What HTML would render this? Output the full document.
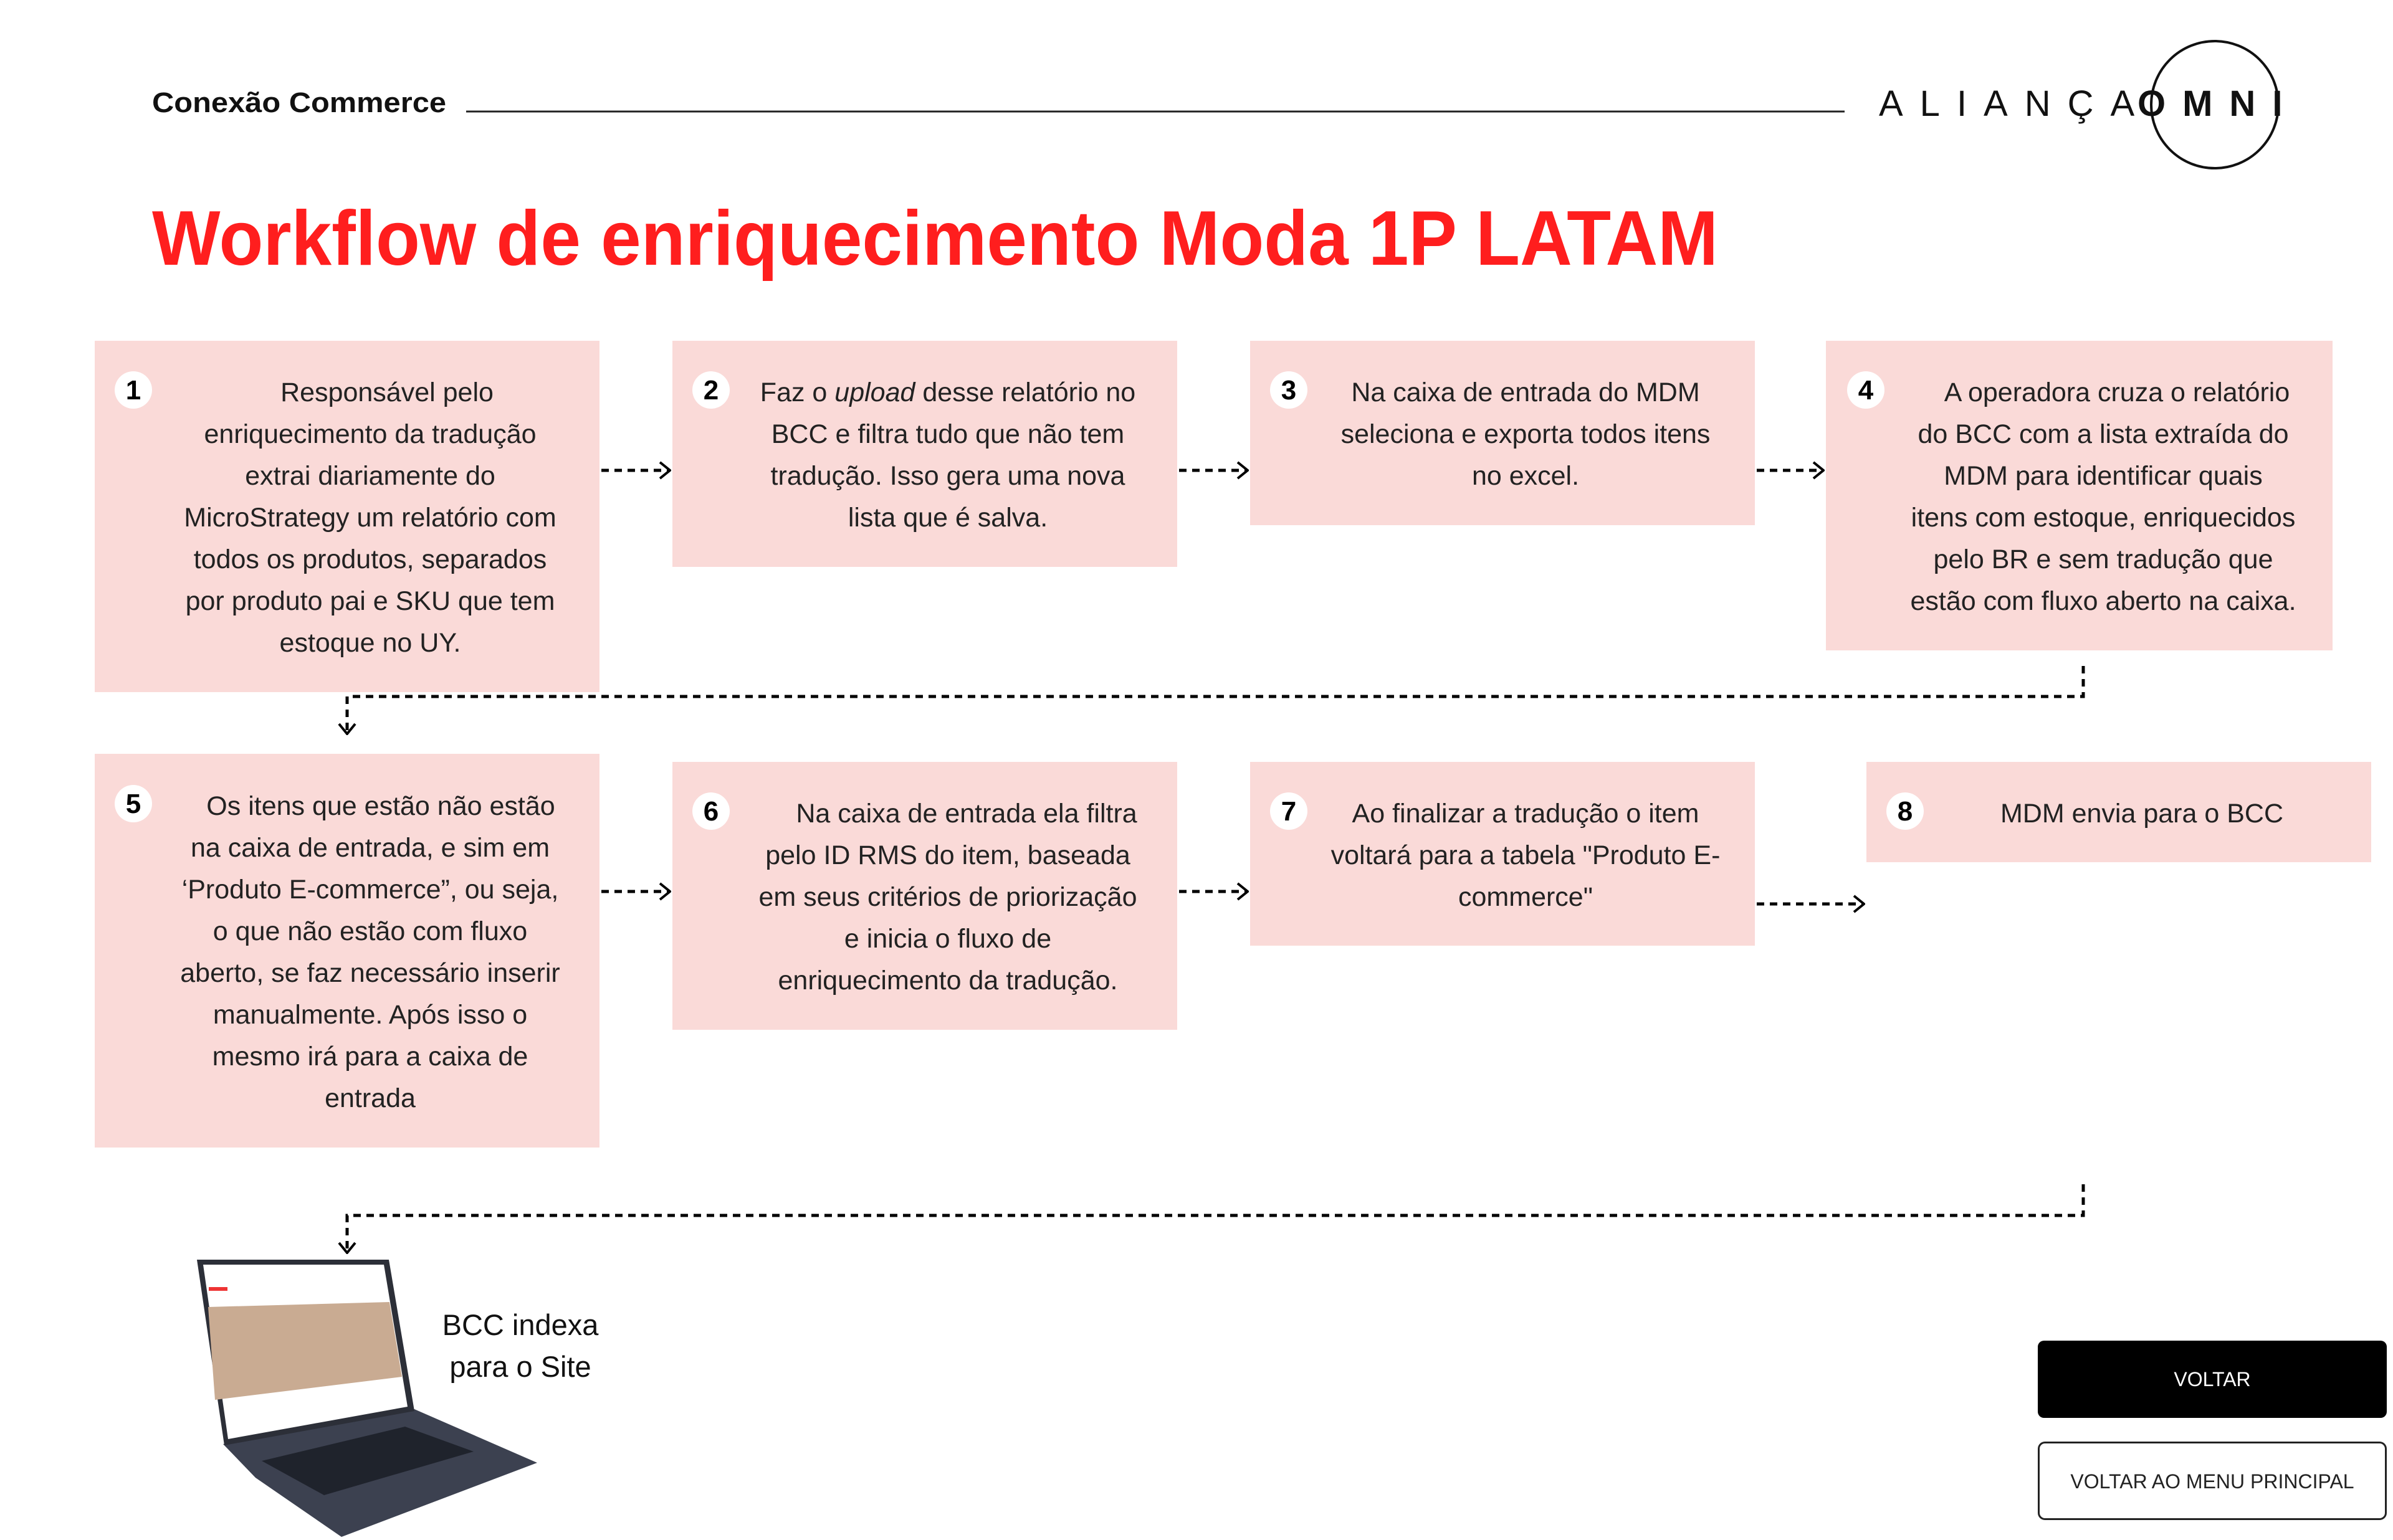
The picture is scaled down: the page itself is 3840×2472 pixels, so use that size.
<!DOCTYPE html>
<html><head><meta charset="utf-8"><style>
html,body{margin:0;padding:0;background:#fff;}
svg{display:block;}
text{font-family:"Liberation Sans",Arial,sans-serif;}
</style></head><body>
<svg width="3840" height="2472" viewBox="0 0 3840 2472" xmlns="http://www.w3.org/2000/svg">
<defs>
<marker id="ah" viewBox="0 0 20 30" refX="18" refY="15" markerWidth="20" markerHeight="30" markerUnits="userSpaceOnUse" orient="auto">
<path d="M2 2 L18 15 L2 28" fill="none" stroke="#000" stroke-width="4"/>
</marker>
</defs>
<rect width="3840" height="2472" fill="#fff"/>
<!-- header -->
<text x="244" y="180" font-size="45" font-weight="bold" fill="#111" textLength="472" lengthAdjust="spacingAndGlyphs">Conexão Commerce</text>
<line x1="748" y1="179" x2="2960" y2="179" stroke="#222" stroke-width="3"/>
<text x="3015" y="186" font-size="58" fill="#111" letter-spacing="27">ALIANÇA</text>
<text x="3430" y="186" font-size="58" font-weight="bold" fill="#111" letter-spacing="27">OMNI</text>
<circle cx="3554" cy="168" r="102" fill="none" stroke="#111" stroke-width="4"/>
<rect x="3560" y="60" width="0" height="0"/>
<!-- title -->
<text x="244" y="425" font-size="124" font-weight="bold" fill="#ff1e1e" textLength="2513" lengthAdjust="spacingAndGlyphs">Workflow de enriquecimento Moda 1P LATAM</text>

<!-- boxes -->
<g fill="#fadad8">
<rect x="152" y="547" width="810" height="564"/>
<rect x="1079" y="547" width="810" height="363"/>
<rect x="2006" y="547" width="810" height="296"/>
<rect x="2930" y="547" width="813" height="497"/>
<rect x="152" y="1210" width="810" height="632"/>
<rect x="1079" y="1223" width="810" height="430"/>
<rect x="2006" y="1223" width="810" height="295"/>
<rect x="2995" y="1223" width="810" height="161"/>
</g>
<!-- number circles -->
<g fill="#fff">
<circle cx="214" cy="626" r="30"/><circle cx="1141" cy="626" r="30"/><circle cx="2068" cy="626" r="30"/><circle cx="2994" cy="626" r="30"/>
<circle cx="214" cy="1290" r="30"/><circle cx="1141" cy="1302" r="30"/><circle cx="2068" cy="1302" r="30"/><circle cx="3057" cy="1302" r="30"/>
</g>
<g font-size="44" font-weight="bold" fill="#000" text-anchor="middle">
<text x="214" y="641">1</text><text x="1141" y="641">2</text><text x="2068" y="641">3</text><text x="2994" y="641">4</text>
<text x="214" y="1305">5</text><text x="1141" y="1317">6</text><text x="2068" y="1317">7</text><text x="3057" y="1317">8</text>
</g>
<g font-size="43" fill="#222" text-anchor="middle">
<text x="621" y="644">Responsável pelo</text>
<text x="594" y="711">enriquecimento da tradução</text>
<text x="594" y="778">extrai diariamente do</text>
<text x="594" y="845">MicroStrategy um relatório com</text>
<text x="594" y="912">todos os produtos, separados</text>
<text x="594" y="979">por produto pai e SKU que tem</text>
<text x="594" y="1046">estoque no UY.</text>

<text x="1521" y="644">Faz o <tspan font-style="italic">upload</tspan> desse relatório no</text>
<text x="1521" y="711">BCC e filtra tudo que não tem</text>
<text x="1521" y="778">tradução. Isso gera uma nova</text>
<text x="1521" y="845">lista que é salva.</text>

<text x="2448" y="644">Na caixa de entrada do MDM</text>
<text x="2448" y="711">seleciona e exporta todos itens</text>
<text x="2448" y="778">no excel.</text>

<text x="3397" y="644">A operadora cruza o relatório</text>
<text x="3375" y="711">do BCC com a lista extraída do</text>
<text x="3375" y="778">MDM  para identificar quais</text>
<text x="3375" y="845">itens com estoque, enriquecidos</text>
<text x="3375" y="912">pelo BR e sem tradução que</text>
<text x="3375" y="979">estão com fluxo aberto na caixa.</text>

<text x="611" y="1308">Os itens que estão não estão</text>
<text x="594" y="1375">na caixa de entrada, e sim em</text>
<text x="594" y="1442">‘Produto E-commerce”, ou seja,</text>
<text x="594" y="1509">o que não estão com fluxo</text>
<text x="594" y="1576">aberto, se faz necessário inserir</text>
<text x="594" y="1643">manualmente. Após isso o</text>
<text x="594" y="1710">mesmo irá para a caixa de</text>
<text x="594" y="1777">entrada</text>

<text x="1551" y="1320">Na caixa de entrada ela filtra</text>
<text x="1521" y="1387">pelo ID RMS do item, baseada</text>
<text x="1521" y="1454">em seus critérios de priorização</text>
<text x="1521" y="1521">e inicia o fluxo de</text>
<text x="1521" y="1588">enriquecimento da tradução.</text>

<text x="2448" y="1320">Ao finalizar a tradução o item</text>
<text x="2448" y="1387">voltará para a tabela "Produto E-</text>
<text x="2448" y="1454">commerce"</text>

<text x="3437" y="1320">MDM envia para o BCC</text>
</g>

<!-- arrows -->
<g fill="none" stroke="#000" stroke-width="5" stroke-dasharray="12 9">
<line x1="965" y1="755" x2="1075" y2="755" marker-end="url(#ah)"/>
<line x1="1892" y1="755" x2="2002" y2="755" marker-end="url(#ah)"/>
<line x1="2819" y1="755" x2="2926" y2="755" marker-end="url(#ah)"/>
<line x1="965" y1="1431" x2="1075" y2="1431" marker-end="url(#ah)"/>
<line x1="1892" y1="1431" x2="2002" y2="1431" marker-end="url(#ah)"/>
<line x1="2819" y1="1451" x2="2991" y2="1451" marker-end="url(#ah)"/>
<polyline points="3343,1069 3343,1118 557,1118 557,1178" marker-end="url(#ah)"/>
<polyline points="3343,1901 3343,1951 557,1951 557,2011" marker-end="url(#ah)"/>
</g>

<!-- laptop -->
<polygon points="358,2318 665,2262 862,2348 548,2467 410,2372" fill="#3c4150"/>
<polygon points="420,2345 650,2290 760,2330 520,2400" fill="#1f232c"/>
<polygon points="316,2022 624,2022 665,2265 360,2320" fill="#2c2f38"/>
<polygon points="326,2030 616,2030 654,2258 366,2310" fill="#fff"/>
<polygon points="334,2098 625,2090 645,2210 345,2247" fill="#c9ab92"/>
<rect x="335" y="2066" width="30" height="6" fill="#e33"/>

<text x="835" y="2143" font-size="47" fill="#111" text-anchor="middle">BCC indexa</text>
<text x="835" y="2210" font-size="47" fill="#111" text-anchor="middle">para o Site</text>

<!-- buttons -->
<rect x="3270" y="2152" width="560" height="124" rx="10" fill="#000"/>
<text x="3550" y="2225" font-size="32" fill="#fff" text-anchor="middle">VOLTAR</text>
<rect x="3271.5" y="2315.5" width="557" height="123" rx="10" fill="#fff" stroke="#222" stroke-width="3"/>
<text x="3550" y="2389" font-size="32" fill="#222" text-anchor="middle">VOLTAR AO MENU PRINCIPAL</text>
</svg>
</body></html>
